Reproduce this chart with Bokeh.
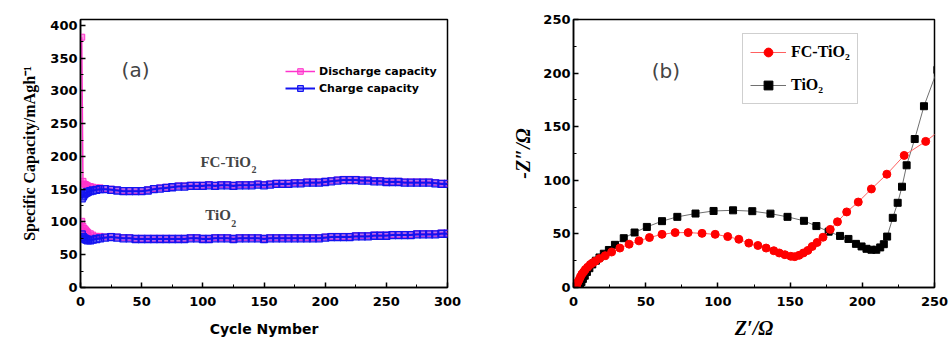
from bokeh.plotting import figure
from bokeh.models import Legend, LegendItem, Label, FixedTicker, Range1d
from bokeh.layouts import row
from bokeh.embed import file_html
from bokeh.resources import INLINE

# ---------------- panel (a): cycling data ----------------
cycles = [1, 2, 3, 4, 5, 6, 8, 10, 13, 16, 20,
          25, 30, 35, 40, 45, 50, 55, 60, 65, 70, 75, 80, 85, 90, 95, 100,
          105, 110, 115, 120, 125, 130, 135, 140, 145, 150, 155, 160, 165, 170,
          175, 180, 185, 190, 195, 200, 205, 210, 215, 220, 225, 230, 235, 240,
          245, 250, 255, 260, 265, 270, 275, 280, 285, 290, 295, 300]

fc_charge = [136, 139, 142, 144, 145, 146, 147, 148, 149, 150, 150,
             149, 148, 147, 147, 147, 147, 148, 150, 151, 152, 153, 154, 154, 155, 155, 155,
             156, 155, 156, 156, 155, 156, 156, 156, 157, 156, 157, 158, 158, 158,
             159, 159, 160, 160, 160, 161, 162, 163, 164, 164, 164, 163, 163, 162,
             162, 161, 161, 161, 160, 160, 160, 160, 160, 159, 158, 158]

fc_discharge = [382, 162, 158, 157, 156, 155, 154, 153, 152, 152, 151,
                150, 149, 148, 148, 148, 148, 149, 151, 152, 153, 154, 155, 155, 156, 156, 156,
                157, 156, 157, 157, 156, 157, 157, 157, 158, 157, 158, 159, 159, 159,
                160, 160, 161, 161, 161, 162, 163, 164, 165, 165, 165, 164, 164, 163,
                163, 162, 162, 162, 161, 161, 161, 161, 161, 160, 159, 159]

tio2_charge = [81, 77, 75, 74, 73, 72, 72, 73, 74, 75, 76,
               77, 76, 75, 75, 74, 74, 74, 74, 74, 74, 74, 74, 74, 75, 75, 74,
               74, 75, 75, 75, 74, 75, 75, 75, 75, 74, 75, 75, 75, 75,
               75, 75, 75, 75, 75, 76, 77, 77, 77, 77, 78, 78, 78, 79,
               79, 79, 80, 80, 80, 80, 81, 81, 81, 81, 82, 82]

tio2_discharge = [101, 93, 90, 88, 86, 84, 82, 80, 78, 78, 77,
                  78, 77, 76, 76, 75, 75, 75, 75, 75, 75, 75, 75, 75, 76, 76, 75,
                  75, 76, 76, 76, 75, 76, 76, 76, 76, 75, 76, 76, 76, 76,
                  76, 76, 76, 76, 76, 77, 78, 78, 78, 78, 79, 79, 79, 80,
                  80, 80, 81, 81, 81, 81, 82, 82, 82, 82, 83, 83]

# ---------------- panel (b): Nyquist data ----------------
z_re_fc = [1.5, 2.0, 2.5, 3.2, 4.0, 4.8, 5.8, 7.0, 8.2, 9.8, 11.6, 13.3, 15.0, 18.0,
           21.9, 26.4, 32.1, 38.5, 45.3, 52.6, 61.3, 70.4, 79.4, 89.0, 98.1, 106.8,
           114.5, 121.4, 127.7, 133.4, 138.7, 142.5, 146.4, 150.5, 153.2, 156.2,
           159.2, 162.3, 165.3, 168.7, 172.8, 177.8, 182.8, 189.2, 197.2, 206.3,
           217.0, 229.0, 243.9, 258.0]
z_im_fc = [0, 1.5, 3.5, 5.5, 7.5, 10, 12.5, 14.5, 16.8, 19, 21.4, 23, 24.5, 27,
           29.7, 33.1, 36.8, 40.4, 43.5, 46.6, 49.6, 51.2, 51.2, 50.5, 49.6, 47.5,
           45, 41.4, 39.2, 36.8, 34.3, 32.2, 30.6, 29.1, 28.8, 30,
           32.2, 34.6, 38.3, 42, 46.9, 54.2, 61.3, 70.5, 79.7, 91.9,
           105.7, 123.2, 136.3, 151.0]

z_re_tio2 = [3.6, 4.5, 5.5, 6.5, 7.8, 9.3, 11.0, 13.0, 15.5, 18.0, 21.0, 24.5, 28.7,
             34.8, 42.3, 50.8, 61.3, 71.9, 84.5, 97.0, 110.5, 123.8, 136.4, 148.2,
             159.6, 168.2, 176.7, 184.6, 190.4, 195.6, 199.5, 202.9, 206.3, 209.7,
             212.4, 214.9, 217.2, 221.1, 224.5, 227.5, 230.7, 236.3, 242.7, 252.0]
z_im_tio2 = [0, 2.5, 5, 8, 11, 14.5, 18, 21.5, 25, 28, 31.5, 35, 39.8,
             46, 51.3, 56.5, 61.9, 65.9, 69, 71.4, 72, 71.2, 68.9, 65.9,
             62.2, 57.3, 52.1, 48.1, 45.3, 40.7, 38.3, 36.1, 35.2, 35.2,
             37.4, 40.4, 47.5, 65, 79, 94, 114, 138.5, 169.1, 203.0]

PINK = "#ff33cc"
BLUE = "#1414f0"


def style(p, xticks, xminor, yticks, yminor):
    p.xgrid.visible = False
    p.ygrid.visible = False
    p.outline_line_color = "black"
    p.outline_line_width = 1.5
    p.background_fill_color = "white"
    p.border_fill_color = "white"
    p.xaxis[0].ticker = FixedTicker(ticks=xticks, minor_ticks=xminor)
    p.yaxis[0].ticker = FixedTicker(ticks=yticks, minor_ticks=yminor)
    for ax in (p.xaxis[0], p.yaxis[0]):
        ax.axis_line_width = 1.5
        ax.axis_line_color = "black"
        ax.major_tick_in = 5
        ax.major_tick_out = 0
        ax.minor_tick_in = 3
        ax.minor_tick_out = 0
        ax.major_tick_line_width = 1.5
        ax.minor_tick_line_width = 1
        ax.major_tick_line_color = "black"
        ax.minor_tick_line_color = "black"
        ax.major_label_text_font = "DejaVu Sans"
        ax.major_label_text_font_size = "13px"
        ax.major_label_text_font_style = "bold"
        ax.major_label_text_color = "black"
        ax.axis_label_text_color = "black"
    p.xaxis[0].major_label_standoff = 9
    p.yaxis[0].major_label_standoff = 3


# ---------------- figure (a) ----------------
p1 = figure(width=481, height=341, x_range=Range1d(0, 300), y_range=Range1d(0, 409),
            output_backend="svg", toolbar_location=None,
            min_border_left=80, min_border_right=34, min_border_top=19, min_border_bottom=51)
style(p1, list(range(0, 301, 50)), list(range(25, 300, 50)),
      list(range(0, 401, 50)), list(range(25, 400, 50)))

p1.xaxis[0].axis_label = "Cycle Nymber"
p1.xaxis[0].axis_label_text_font = "DejaVu Sans"
p1.xaxis[0].axis_label_text_font_size = "14px"
p1.xaxis[0].axis_label_text_font_style = "bold"
p1.xaxis[0].axis_label_standoff = 12
p1.yaxis[0].axis_label = "Specific Capacity/mAgh\u207b\u00b9"
p1.yaxis[0].axis_label_text_font = "Liberation Serif"
p1.yaxis[0].axis_label_text_font_size = "16px"
p1.yaxis[0].axis_label_text_font_style = "bold"
p1.yaxis[0].axis_label_standoff = 9

dl1 = p1.line(cycles, fc_discharge, line_color=PINK, line_width=1.5)
ds1 = p1.scatter(cycles, fc_discharge, marker="square", size=6, line_color=PINK,
                 fill_color=PINK, fill_alpha=0.5)
p1.line(cycles, tio2_discharge, line_color=PINK, line_width=1.5)
p1.scatter(cycles, tio2_discharge, marker="square", size=6, line_color=PINK,
           fill_color=PINK, fill_alpha=0.5)
cl1 = p1.line(cycles, fc_charge, line_color=BLUE, line_width=2)
cs1 = p1.scatter(cycles, fc_charge, marker="square", size=7, line_color=BLUE,
                 line_width=1.3, fill_color=BLUE, fill_alpha=0.3)
p1.line(cycles, tio2_charge, line_color=BLUE, line_width=2)
p1.scatter(cycles, tio2_charge, marker="square", size=7, line_color=BLUE,
           line_width=1.3, fill_color=BLUE, fill_alpha=0.3)

leg1 = Legend(items=[LegendItem(label="Discharge capacity", renderers=[dl1, ds1]),
                     LegendItem(label="Charge capacity", renderers=[cl1, cs1])],
              location=(205, 192), orientation="vertical",
              glyph_width=30, glyph_height=14, label_height=14, label_standoff=4,
              spacing=3, padding=0, margin=0,
              background_fill_alpha=0, border_line_alpha=0,
              label_text_font="DejaVu Sans", label_text_font_size="11px",
              label_text_font_style="bold", label_text_color="black")
p1.add_layout(leg1, "center")

p1.add_layout(Label(x=45, y=332, text="(a)", text_font="DejaVu Sans",
                    text_font_size="20px", text_align="center", text_baseline="middle"))
p1.add_layout(Label(x=98, y=192, text="FC-TiO", text_font="Liberation Serif",
                    text_font_size="15px", text_font_style="bold",
                    text_align="left", text_baseline="middle"))
p1.add_layout(Label(x=98, y=192, x_offset=51, y_offset=-8, text="2",
                    text_font="Liberation Serif", text_font_size="10px",
                    text_font_style="bold", text_align="left", text_baseline="middle"))
p1.add_layout(Label(x=102, y=110, text="TiO", text_font="Liberation Serif",
                    text_font_size="15px", text_font_style="bold",
                    text_align="left", text_baseline="middle"))
p1.add_layout(Label(x=102, y=110, x_offset=26, y_offset=-8, text="2",
                    text_font="Liberation Serif", text_font_size="10px",
                    text_font_style="bold", text_align="left", text_baseline="middle"))

# ---------------- figure (b) ----------------
p2 = figure(width=471, height=341, x_range=Range1d(0, 250), y_range=Range1d(0, 250),
            output_backend="svg", toolbar_location=None,
            min_border_left=92, min_border_right=18, min_border_top=18, min_border_bottom=51)
style(p2, list(range(0, 251, 50)), list(range(25, 250, 50)),
      list(range(0, 251, 50)), list(range(25, 250, 50)))

p2.xaxis[0].axis_label = "Z\u2032/\u03a9"
p2.xaxis[0].axis_label_text_font = "Liberation Serif"
p2.xaxis[0].axis_label_text_font_size = "20px"
p2.xaxis[0].axis_label_text_font_style = "bold italic"
p2.xaxis[0].axis_label_standoff = 8
p2.yaxis[0].axis_label = "-Z\u2033/\u03a9"
p2.yaxis[0].axis_label_text_font = "Liberation Serif"
p2.yaxis[0].axis_label_text_font_size = "20px"
p2.yaxis[0].axis_label_text_font_style = "bold italic"
p2.yaxis[0].axis_label_standoff = 6

bl = p2.line(z_re_tio2, z_im_tio2, line_color="#707070", line_width=1)
bs = p2.scatter(z_re_tio2, z_im_tio2, marker="square", size=7, color="black")
rl = p2.line(z_re_fc, z_im_fc, line_color="#ff6060", line_width=1)
rs = p2.scatter(z_re_fc, z_im_fc, marker="circle", size=8, color="#ff0000")

leg2 = Legend(items=[LegendItem(label="FC-TiO\u2082", renderers=[rl, rs]),
                     LegendItem(label="TiO\u2082", renderers=[bl, bs])],
              location=(169, 183), orientation="vertical",
              glyph_width=36, glyph_height=22, label_height=22, label_standoff=5,
              spacing=11, padding=7, margin=0,
              background_fill_color="white", background_fill_alpha=1,
              border_line_color="#a0a0a0", border_line_width=1,
              label_text_font="Liberation Serif", label_text_font_size="16px",
              label_text_font_style="bold", label_text_color="black")
p2.add_layout(leg2, "center")

p2.add_layout(Label(x=64, y=202, text="(b)", text_font="DejaVu Sans",
                    text_font_size="20px", text_align="center", text_baseline="middle"))

layout = row(p1, p2)
open("out.html", "w").write(file_html(layout, INLINE))
